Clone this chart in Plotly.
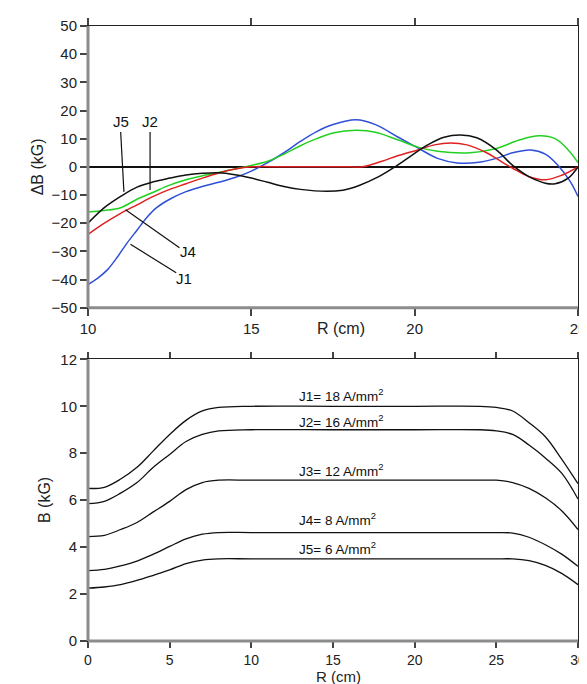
import plotly.graph_objects as go

# top panel: delta B vs R
r_j1 = [10, 10.3, 10.6, 10.9, 11.2, 11.5, 11.8, 12.1, 12.5, 13, 13.5, 14, 14.5, 15, 15.5, 16, 16.5, 17, 17.5,
        18.2, 18.8, 19.5, 20.1, 20.7, 21.3, 21.9, 22.5, 23, 23.55, 24, 24.35, 24.75, 25]
db_j1 = [-41.8, -39.5, -36.5, -32, -27, -22.5, -18, -14.5, -11.5, -8.8, -7, -5.5, -3.8, -1.5, 1.5, 5, 9, 12.5, 15,
         16.7, 15, 10.5, 6.7, 3, 1.4, 1.5, 3, 5, 6, 4.5, 1, -5, -10.5]

r_j2 = [10, 10.5, 11, 11.5, 12, 12.5, 13, 13.5, 14, 14.5, 15, 15.5, 16, 16.5, 17, 17.5, 18.2, 18.8, 19.5, 20.1,
        20.7, 21.7, 22.5, 23.2, 23.8, 24.3, 24.7, 25]
db_j2 = [-16, -15.5, -14.5, -11.5, -9, -6.5, -4.6, -3.2, -2, -0.8, 0.5, 2, 4.5, 7.5, 10, 12, 13, 12.3, 9.5, 7,
         5.5, 5, 6.5, 9.5, 11, 10, 6, 1.5]

r_j4 = [10, 10.5, 11, 11.5, 12, 12.5, 13, 13.5, 14, 14.5, 15, 16, 17, 18, 18.4, 19, 19.5, 20.1, 20.6, 21.1,
        21.6, 22.2, 22.7, 23, 23.5, 24, 24.5, 25]
db_j4 = [-24, -20, -16.5, -13.5, -10.5, -8, -6, -4, -2.2, -0.8, 0, 0, 0, 0, 0, 2, 4, 6, 7.8, 8.5,
         7.8, 5, 1.5, -0.5, -3.5, -4.6, -3, 0]

r_j5 = [10, 10.5, 11, 11.5, 12, 12.5, 13, 13.5, 14, 14.5, 15, 15.5, 16, 16.5, 17.3, 17.8, 18.3, 18.9, 19.4, 19.9,
        20.4, 20.9, 21.4, 21.9, 22.5, 23, 23.5, 24, 24.3, 24.7, 25]
db_j5 = [-20, -14.5, -10.5, -7.2, -5.3, -4, -2.9, -2.3, -2.1, -2.8, -4, -5.5, -7, -8, -8.7, -8.3, -6.6, -3.5, 0, 4,
         7.8, 10.5, 11.3, 10.3, 6, 0.5, -3.5, -5.8, -6, -4, 0]

# label leaders in top panel: (label, text x, text y, line x0, y0, x1, y1)
top_labels = [
    ("J5", 11.0, 16, 11.0, 12.4, 11.1, -8.9),
    ("J2", 11.9, 16, 11.9, 12.4, 11.9, -8.2),
    ("J4", 13.07, -30, 12.8, -28.7, 11.15, -15.2),
    ("J1", 12.95, -39.7, 12.7, -37.6, 11.3, -27.5),
]

# bottom panel: B vs R
r_b = [0, 1, 2, 3, 4, 5, 6, 7, 8, 10, 15, 20, 24, 25, 26, 27, 28, 29, 30]
b_j1 = [6.5, 6.55, 6.9, 7.4, 8.1, 8.8, 9.4, 9.8, 9.95, 10, 10, 10, 10, 9.95, 9.8, 9.3, 8.7, 7.75, 6.7]
b_j2 = [5.85, 5.95, 6.3, 6.75, 7.4, 7.95, 8.5, 8.8, 8.95, 9.0, 9.0, 9.0, 9.0, 8.95, 8.8, 8.35, 7.8, 7.15, 6.05]
b_j3 = [4.45, 4.5, 4.75, 5.05, 5.5, 5.95, 6.45, 6.75, 6.85, 6.85, 6.85, 6.85, 6.85, 6.85, 6.75, 6.5, 6.1, 5.55, 4.75]
b_j4 = [3.0, 3.05, 3.2, 3.4, 3.7, 4.03, 4.35, 4.55, 4.62, 4.62, 4.62, 4.62, 4.62, 4.62, 4.6, 4.42, 4.1, 3.7, 3.18]
b_j5 = [2.25, 2.3, 2.4, 2.58, 2.8, 3.03, 3.3, 3.45, 3.5, 3.5, 3.5, 3.5, 3.5, 3.5, 3.5, 3.42, 3.22, 2.88, 2.4]

bottom_labels = ["J1= 18 A/mm<sup>2</sup>", "J2= 16 A/mm<sup>2</sup>", "J3= 12 A/mm<sup>2</sup>",
                 "J4= 8 A/mm<sup>2</sup>", "J5= 6 A/mm<sup>2</sup>"]
bottom_label_y = [10.5, 9.36, 7.28, 5.19, 3.96]

FONT = "Liberation Sans, Arial, sans-serif"


def axis_style(**kwargs):
    base = dict(showgrid=False, zeroline=False, showline=True, linecolor="#222", linewidth=1,
                mirror="ticks", ticks="outside", ticklen=7, tickcolor="#444", tickwidth=1.5,
                ticklabeloverflow="allow",
                tickfont=dict(family=FONT, size=15, color="#222"))
    base.update(kwargs)
    return base


fig = go.Figure()

for r, db, color in [(r_j1, db_j1, "#2f4fd8"), (r_j2, db_j2, "#22d022"),
                     (r_j4, db_j4, "#e02020"), (r_j5, db_j5, "#111111")]:
    fig.add_trace(go.Scatter(x=r, y=db, mode="lines", line=dict(color=color, width=1.5, shape="spline"),
                             xaxis="x", yaxis="y", showlegend=False))

for name, tx, ty, x0, y0, x1, y1 in top_labels:
    fig.add_trace(go.Scatter(x=[x0, x1], y=[y0, y1], mode="lines", line=dict(color="#111", width=1.2),
                             xaxis="x", yaxis="y", showlegend=False))
    fig.add_annotation(x=tx, y=ty, xref="x", yref="y", text=name, showarrow=False,
                       font=dict(family=FONT, size=15, color="#111"))

for b in [b_j1, b_j2, b_j3, b_j4, b_j5]:
    fig.add_trace(go.Scatter(x=r_b, y=b, mode="lines", line=dict(color="#111", width=1.3, shape="spline"),
                             xaxis="x2", yaxis="y2", showlegend=False))

for text, y in zip(bottom_labels, bottom_label_y):
    fig.add_annotation(x=12.8, y=y, xref="x2", yref="y2", text=text, showarrow=False, xanchor="left",
                       font=dict(family=FONT, size=13.5, color="#111"))

# axis titles
fig.add_annotation(x=17.75, y=-0.035, xref="x", yref="y domain", text="R (cm)", showarrow=False,
                   yanchor="top", font=dict(family=FONT, size=16, color="#222"))
fig.add_annotation(x=15.36, y=-0.087, xref="x2", yref="y2 domain", text="R (cm)", showarrow=False,
                   yanchor="top", font=dict(family=FONT, size=15, color="#222"))
fig.add_annotation(x=-0.103, y=0.5, xref="paper", yref="y domain", text="ΔB (kG)", showarrow=False,
                   textangle=-90, xanchor="center", font=dict(family=FONT, size=16, color="#222"))
fig.add_annotation(x=-0.09, y=0.5, xref="paper", yref="y2 domain", text="B (kG)", showarrow=False,
                   textangle=-90, xanchor="center", font=dict(family=FONT, size=16, color="#222"))

# thick grey left/bottom axis lines
for xr, yr in [("x", "y"), ("x2", "y2")]:
    fig.add_shape(type="line", xref=xr + " domain", yref=yr + " domain", x0=0, x1=0, y0=0, y1=1,
                  line=dict(color="#8c8c8c", width=3), layer="above")
    fig.add_shape(type="line", xref=xr + " domain", yref=yr + " domain", x0=0, x1=1, y0=0, y1=0,
                  line=dict(color="#8c8c8c", width=3), layer="above")

fig.update_layout(
    width=587,
    height=684,
    margin=dict(l=80, r=9, t=17, b=51),
    plot_bgcolor="white",
    paper_bgcolor="white",
    xaxis=axis_style(domain=[0, 1], range=[10, 25], tickvals=[10, 15, 20, 25], anchor="y"),
    yaxis=axis_style(domain=[0.542, 1], range=[-50, 50], dtick=10, anchor="x",
                     zeroline=True, zerolinecolor="#111", zerolinewidth=1.5),
    xaxis2=axis_style(domain=[0, 1], range=[0, 30], dtick=5, anchor="y2", ticklen=6,
                      tickfont=dict(family=FONT, size=14, color="#222")),
    yaxis2=axis_style(domain=[0, 0.458], range=[0, 12], dtick=2, anchor="x2"),
)

fig.write_html("out.html")
